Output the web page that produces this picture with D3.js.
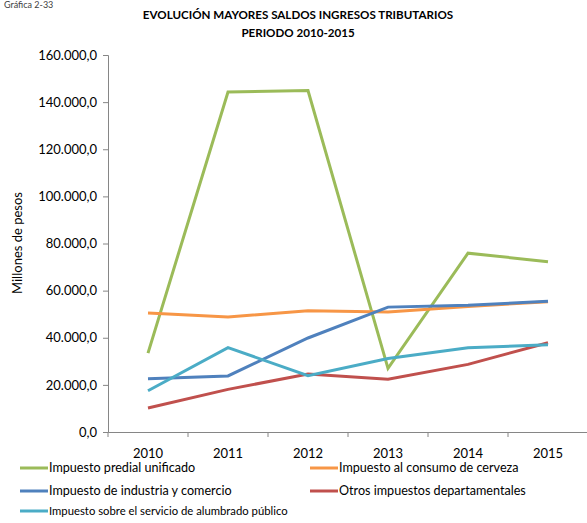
<!DOCTYPE html>
<html><head><meta charset="utf-8">
<script src="https://cdn.jsdelivr.net/npm/d3@7"></script>
<style>
html,body{margin:0;padding:0;background:#fff;}
svg{display:block;font-family:Lato,"Open Sans",sans-serif;}
</style></head>
<body>
<svg id="c" width="587" height="523"></svg>
<script>
const years = ["2010","2011","2012","2013","2014","2015"];
const seriesNames = [
  "Impuesto predial unificado",
  "Impuesto al consumo de cerveza",
  "Impuesto de industria y comercio",
  "Otros impuestos departamentales",
  "Impuesto sobre el servicio de alumbrado público"
];
const predial    = [33500, 144300, 144900, 27000, 75900, 72300];
const cerveza    = [50500, 48800, 51500, 50900, 53300, 55300];
const industria  = [22600, 23800, 39900, 53000, 53800, 55500];
const otros      = [10200, 18100, 24600, 22400, 28700, 37900];
const alumbrado  = [17500, 35800, 23900, 31200, 35800, 37000];
const yTicks = [0,20000,40000,60000,80000,100000,120000,140000,160000];
const colors = ["#9BBB59","#F79646","#4F81BD","#C0504D","#4BACC6"];

const allValues = [predial, cerveza, industria, otros, alumbrado];
const svg = d3.select("#c");
const pLeft = 108, pRight = 588, pTop = 55, pBottom = 432;

const x = d3.scaleBand().domain(years).range([pLeft, pRight]);
const y = d3.scaleLinear().domain([0,160000]).range([pBottom, pTop]);
const loc = d3.formatLocale({decimal:",", thousands:".", grouping:[3], currency:["$",""]});
const fmt = loc.format(",.1f");

// Top caption
svg.append("text").attr("x",4).attr("y",8).attr("font-size",9).attr("fill","#404040").text("Gráfica 2-33");

// Title
const title = svg.append("text").attr("text-anchor","middle").attr("font-weight","bold").attr("font-size",11.6).attr("fill","#000");
title.append("tspan").attr("x",298).attr("y",19).text("EVOLUCIÓN MAYORES SALDOS INGRESOS TRIBUTARIOS");
title.append("tspan").attr("x",298).attr("y",37).text("PERIODO 2010-2015");

// Y axis
const yAxis = svg.append("g").attr("transform",`translate(${pLeft},0)`)
  .call(d3.axisLeft(y).tickValues(yTicks).tickFormat(fmt).tickSize(5).tickPadding(6));
yAxis.select(".domain").attr("stroke","#868686");
yAxis.selectAll(".tick line").attr("stroke","#868686");
yAxis.selectAll("text").attr("font-size",13).attr("fill","#000").attr("font-family","Lato,sans-serif");

// X axis
const xAxis = svg.append("g").attr("transform",`translate(0,${pBottom})`)
  .call(d3.axisBottom(x).tickSize(0).tickPadding(17));
xAxis.select(".domain").attr("stroke","#868686");
xAxis.selectAll("text").attr("font-size",13).attr("fill","#000").attr("font-family","Lato,sans-serif");
const bounds = years.map(d => x(d)).concat([x(years[years.length-1]) + x.step()]);
xAxis.selectAll("line.bt").data(bounds).enter().append("line").attr("class","bt")
  .attr("x1",d=>d).attr("x2",d=>d).attr("y1",0).attr("y2",5).attr("stroke","#868686");

// Y title
svg.append("text").attr("transform","translate(22,243) rotate(-90)").attr("text-anchor","middle")
  .attr("font-size",13).attr("fill","#000").text("Millones de pesos");

// Lines
const line = d3.line().x((d,i)=>x(years[i]) + x.bandwidth()/2).y(d=>y(d));
allValues.forEach((vals,k)=>{
  svg.append("path").datum(vals).attr("d",line).attr("fill","none")
    .attr("stroke",colors[k]).attr("stroke-width",3).attr("stroke-linejoin","miter");
});

// Legend
const legendPos = [
  {x:20,y:468,fs:12.6},{x:310,y:468,fs:12.6},
  {x:20,y:491,fs:12.6},{x:310,y:491,fs:12.6},
  {x:20,y:511,fs:11.3}
];
seriesNames.forEach((n,k)=>{
  const p = legendPos[k];
  svg.append("line").attr("x1",p.x).attr("x2",p.x+28).attr("y1",p.y).attr("y2",p.y)
    .attr("stroke",colors[k]).attr("stroke-width",3);
  svg.append("text").attr("x",p.x+29).attr("y",p.y).attr("dy","0.35em")
    .attr("font-size",p.fs).attr("fill","#000").text(n);
});
</script>
</body></html>
